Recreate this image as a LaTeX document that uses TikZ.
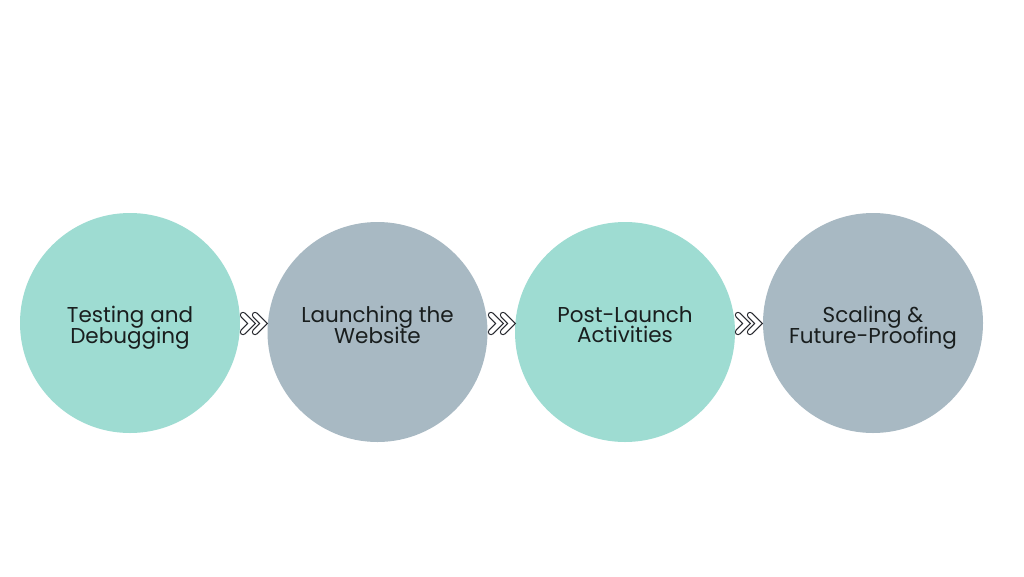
\documentclass[tikz,border=0pt]{standalone}
\usepackage{fontspec}
\setmainfont{Poppins}
\definecolor{tealc}{RGB}{158,220,210}
\definecolor{grayc}{RGB}{168,185,195}
\definecolor{chevc}{RGB}{40,42,48}
\definecolor{txtc}{RGB}{25,30,30}
\newcommand\twolines[2]{\vphantom{Tg}#1\\[-2.5pt]\vphantom{Tg}#2}
\begin{document}
\begin{tikzpicture}[x=1pt,y=-1pt,
  stage/.style={circle,minimum size=220pt,inner sep=0pt,draw=none},
  label/.style={align=center,font=\fontsize{21.5}{21.5}\selectfont,text=txtc,inner sep=0pt},
  chev/.style={draw=chevc,line width=1.2pt,double=white,double distance=4pt,line cap=round,line join=miter}]
\useasboundingbox (0,0) rectangle (1024,576);
\fill[white] (0,0) rectangle (1024,576);
\node[stage,fill=tealc] (c1) at (130,323) {};
\node[stage,fill=grayc] (c2) at (377.5,332) {};
\node[stage,fill=tealc] (c3) at (625,332) {};
\node[stage,fill=grayc] (c4) at (873,323) {};
\node[label] (t1) at (130,327.5) {\twolines{Testing and}{Debugging}};
\node[label] (t2) at (377.5,327.5) {\twolines{Launching the}{Website}};
\node[label] (t3) at (625,327.5) {\twolines{Post-Launch}{Activities}};
\node[label] (t4) at (873,327.5) {\twolines{Scaling \&}{Future-Proofing}};
\foreach \i/\x in {1/245,2/493,3/740}{
  \coordinate (k\i) at (\x,323.5);
  \draw[chev] ([shift={(-2,-8.5)}]k\i) -- ([shift={(6.5,0)}]k\i) -- ([shift={(-2,8.5)}]k\i);
  \draw[chev] ([shift={(10,-8.5)}]k\i) -- ([shift={(18.5,0)}]k\i) -- ([shift={(10,8.5)}]k\i);
}
\end{tikzpicture}
\end{document}
